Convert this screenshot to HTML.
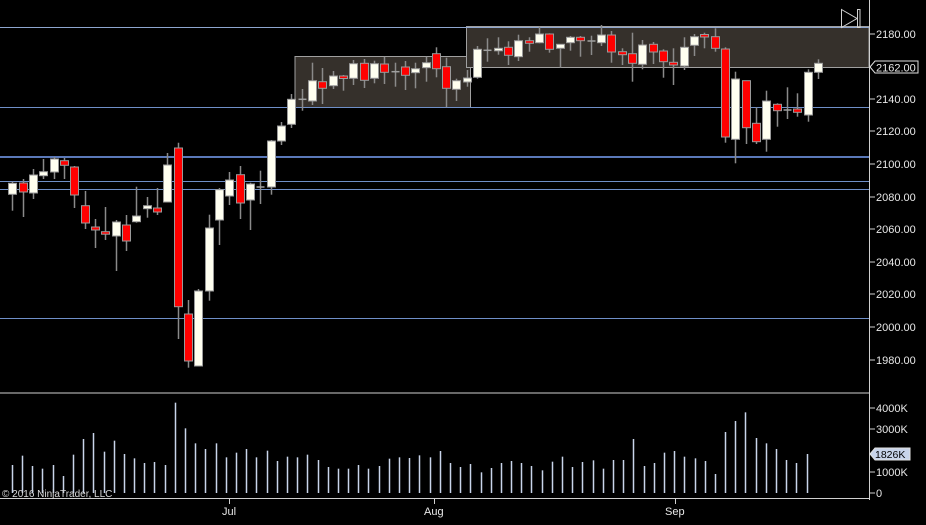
<!DOCTYPE html>
<html><head><meta charset="utf-8"><style>
html,body{margin:0;padding:0;background:#000;width:926px;height:525px;overflow:hidden}
svg{display:block}
text{font-family:"Liberation Sans",sans-serif;font-size:11px;fill:#e8e8e8}
</style></head><body>
<svg id="s" width="926" height="525" xmlns="http://www.w3.org/2000/svg">
<rect width="926" height="525" fill="#000"/>
<rect x="295" y="56.5" width="175.5" height="51" fill="#35302b" stroke="#a0a0a0" stroke-width="1"/>
<rect x="466.5" y="26.5" width="402.5" height="41" fill="#35302b" stroke="#a0a0a0" stroke-width="1"/>
<g stroke="#6f8fc8" stroke-width="1">
<line x1="0" y1="27.5" x2="869" y2="27.5" stroke="#8ea6cf"/>
<line x1="0" y1="107.5" x2="869" y2="107.5"/>
<line x1="0" y1="157" x2="869" y2="157" stroke-width="2" stroke="#5a78b8"/>
<line x1="0" y1="181.5" x2="869" y2="181.5"/>
<line x1="0" y1="189.5" x2="869" y2="189.5"/>
<line x1="0" y1="318.5" x2="869" y2="318.5"/>
</g>
<g id="c"></g>
<g id="v"></g>
<line x1="869.5" y1="0" x2="869.5" y2="500" stroke="#d0d0d0"/>
<line x1="0" y1="393" x2="869" y2="393" stroke="#d0d0d0"/>
<line x1="0" y1="498.5" x2="869" y2="498.5" stroke="#d0d0d0"/>
<g stroke="#d0d0d0">
<line x1="869" y1="34" x2="875" y2="34"/><line x1="869" y1="99" x2="875" y2="99"/><line x1="869" y1="131" x2="875" y2="131"/><line x1="869" y1="164" x2="875" y2="164"/><line x1="869" y1="197" x2="875" y2="197"/><line x1="869" y1="229" x2="875" y2="229"/><line x1="869" y1="262" x2="875" y2="262"/><line x1="869" y1="294" x2="875" y2="294"/><line x1="869" y1="327" x2="875" y2="327"/><line x1="869" y1="360" x2="875" y2="360"/>
<line x1="869" y1="408" x2="875" y2="408"/><line x1="869" y1="429" x2="875" y2="429"/><line x1="869" y1="472" x2="875" y2="472"/><line x1="869" y1="493" x2="875" y2="493"/>
<line x1="229.5" y1="498" x2="229.5" y2="504"/><line x1="434.5" y1="498" x2="434.5" y2="504"/><line x1="675.5" y1="498" x2="675.5" y2="504"/>
</g>
<g>
<text x="876" y="38">2180.00</text><text x="876" y="103">2140.00</text><text x="876" y="135">2120.00</text><text x="876" y="168">2100.00</text><text x="876" y="201">2080.00</text><text x="876" y="233">2060.00</text><text x="876" y="266">2040.00</text><text x="876" y="298">2020.00</text><text x="876" y="331">2000.00</text><text x="876" y="364">1980.00</text>
<text x="876" y="412">4000K</text><text x="876" y="433">3000K</text><text x="876" y="476">1000K</text><text x="876" y="497">0</text>
<text x="222" y="515">Jul</text><text x="424" y="515">Aug</text><text x="665" y="515">Sep</text>
</g>
<path d="M870,67 L875,61 L918,61 L918,73 L875,73 Z" fill="#000" stroke="#e0e0e0"/>
<text x="876" y="71.5">2162.00</text>
<path d="M870,454 L875,448 L910,448 L910,460 L875,460 Z" fill="#c8d4ea" stroke="#e0e0e0"/>
<text x="875" y="458" style="font-size:10.5px;fill:#000">1826K</text>
<path d="M841.5,9.5 L857,18.5 L841.5,27.5 Z" fill="none" stroke="#d0d0d0"/>
<rect x="857.5" y="9.5" width="2.5" height="18" fill="none" stroke="#d0d0d0"/>
<text x="2" y="497" style="font-size:10px;fill:#d8d8d8">© 2016 NinjaTrader, LLC</text>
</svg>
<script>
var d=[
[1,183.3,194.3,181.7,210.7],[0,183,192,179,217],[1,175,193,169,199],[1,171.7,175.7,159,179],[1,159,172,157,179],[0,160.7,165.3,158,179],[0,167,195,166,208],[0,205.7,223,191,229],[0,227,230,219,248],[0,231.7,233.7,207,240],
[1,222,236,220,271],[0,225,241,215,251],[1,216,221.7,186.7,222.7],[1,205.7,208.7,197,217.7],[0,208,212,188,215],[1,165,202,153,202],[0,148,306.7,142.7,339],[0,314,361,300,367.7],[1,291,366,289,366],[1,228,291,214.7,300.7],
[1,189.7,220,188,245],[1,180,196,172,205],[0,174.7,203,166,219],[1,184,200,182.7,230],[2,187,187,170.7,204],[1,141,187,140,194.7],[1,126,141,122,145],[1,99.3,124.3,94,128],[2,99.3,99.3,89,110.7],[1,80.7,101,62.7,105],
[0,81.7,88.3,68,104],[1,76,85.7,71,89],[0,76,78.3,75,90.7],[1,63.7,78.3,60,85],[0,63.3,80.3,59,88],[1,63.7,78.3,60.7,83.3],[0,64,72.3,56.7,84],[2,71.7,71.7,62.7,86.7],[0,67,75.3,61,90],[1,68.7,72.7,62.7,88.3],
[1,62.7,67.7,56.7,81.7],[0,53.7,68.7,47.3,77.3],[0,66.7,88.3,57.7,107.3],[1,80.7,89.3,78.7,101],[1,78,82,70,86.7],[1,49.3,77.3,46,78.7],[2,50.3,50.3,38.3,61.7],[1,48.3,50.3,37.3,54.7],[0,47.3,55.3,41.3,65],[1,40.7,56.7,34.7,61],
[0,40.7,43.3,37.3,51.7],[1,34,42.7,26.7,43.3],[0,34,49.3,33.3,52.7],[1,44.3,48.3,44,67.7],[1,37.3,42.7,36,50.7],[0,37.3,40.7,36,56.7],[2,41,41,35.7,55],[1,35,42.7,25,46],[0,35,52,31,62.7],[0,51.7,54.7,48.3,65],
[0,53.7,63.3,32.7,81.7],[1,45,64.3,40,69.3],[0,44.3,52,42,64],[0,51,61.7,49.3,77.7],[0,62.3,65,48.3,85],[1,47.3,66,37.3,70],[1,36.7,45.3,34,56],[0,34.5,37,32.7,48.3],[0,36.7,48.3,28.3,51.7],[0,49,137,47.3,142.7],
[1,79,139.3,71.7,163.3],[0,80.7,127.7,80.7,144],[0,123.3,141.7,107.3,144],[1,101,139.3,90.7,151.7],[0,104.3,110.7,103.3,126.7],[2,110,110,87.3,119],[0,109,112.3,93.3,116.7],[1,72.3,115,69.3,121.7],[1,63.3,72.3,59.3,79]];
var v=[225,197,228,236,225,258,194,147,129,185,152,192,205,219,216,225,38,115,160,177,160,202,188,177,202,182,213,200,202,194,210,231,236,236,225,236,228,206,202,204,196,202,183,219,231,222,247,234,219,213,219,228,241,215,200,231,216,211,236,210,210,147,228,219,188,183,200,205,213,252,126,93,67,144,160,177,210,219,192];
var NS="http://www.w3.org/2000/svg",c=document.getElementById('c'),vg=document.getElementById('v');
function el(t,a,p){var e=document.createElementNS(NS,t);for(var k in a)e.setAttribute(k,a[k]);p.appendChild(e);}
d.forEach(function(b,i){var x=Math.round(12.3+i*10.33)+0.5;
el('line',{x1:x,y1:b[3],x2:x,y2:b[4],stroke:'#8a8a8a','stroke-width':1.5},c);
if(b[0]==2){el('line',{x1:x-4,y1:b[1],x2:x+4,y2:b[1],stroke:'#a0a0a0','stroke-width':1.5},c);}
else{var h=Math.max(b[2]-b[1],2.5);el('rect',{x:x-4,y:b[1],width:8,height:h,fill:b[0]?'#fffff0':'#ff0000',stroke:'#9a9a9a','stroke-width':1},c);}
});
v.forEach(function(t,i){var x=Math.round(11.8+i*10.19)+0.5;var y=390+t/3;
el('line',{x1:x,y1:y,x2:x,y2:493,stroke:'#c8d4ea','stroke-width':1.5},vg);});
</script>
</body></html>
